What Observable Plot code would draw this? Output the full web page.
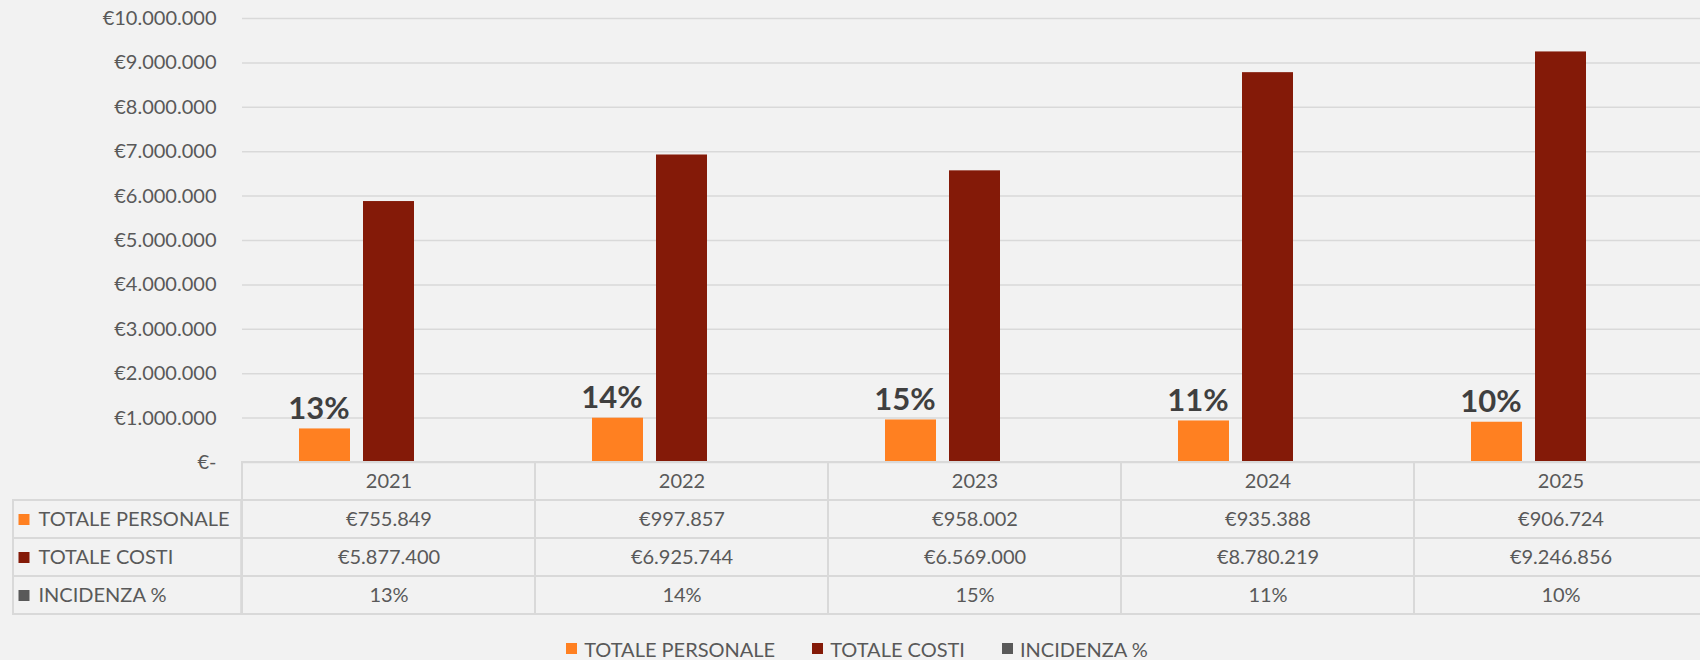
<!DOCTYPE html>
<html><head><meta charset="utf-8">
<script src="https://cdn.jsdelivr.net/npm/d3@7"></script>
<script src="https://cdn.jsdelivr.net/npm/@observablehq/plot@0.6"></script>
<style>
html, body { margin:0; padding:0; background:#f2f2f2; }
body { width:1700px; height:660px; overflow:hidden; font-family: Lato, sans-serif; position:relative; }
#chart, #table { width:1709px; }
svg { overflow: visible !important; display:block; max-width:none !important; }
#legend { position:absolute; left:0; top:632px; width:1700px; padding-left:14px; box-sizing:border-box; }
.lg-swatches { font-family: Lato, sans-serif !important; font-size: 20px !important; color: #595959 !important; margin: 0 !important; }
.lg-swatches-wrap { justify-content: center !important; }
.lg-swatch { margin-right: 37px !important; }
.lg-swatch:last-child { margin-right: 0 !important; }
.lg-swatch > svg { margin-right: 7px !important; }
</style></head>
<body>
<div id="chart"></div>
<div id="table"></div>
<div id="legend"></div>
<script>
const years = ["2021", "2022", "2023", "2024", "2025"];
const totalePersonale = [755849, 997857, 958002, 935388, 906724];
const totaleCosti = [5877400, 6925744, 6569000, 8780219, 9246856];
const incidenza = [0.13, 0.14, 0.15, 0.11, 0.10];
const seriesNames = ["TOTALE PERSONALE", "TOTALE COSTI", "INCIDENZA %"];
const seriesColors = ["#ff8021", "#841a08", "#595959"];
const yTicks = [0, 1000000, 2000000, 3000000, 4000000, 5000000, 6000000, 7000000, 8000000, 9000000, 10000000];

const it = d3.formatLocale({decimal: ",", thousands: ".", grouping: [3], currency: ["€", ""]});
const euro = it.format("$,.0f");
const pct = d3.format(".0%");
const yFmt = d => d === 0 ? "€-" : euro(d);

const W = 1709;
const FS = 20;

const seriesValues = [totalePersonale, totaleCosti, incidenza];
const bars = years.flatMap((y, i) => seriesNames.map((s, k) => ({year: y, series: s, value: seriesValues[k][i]})));
const labels = years.map((y, i) => ({year: y, series: seriesNames[0], value: totalePersonale[i], text: pct(incidenza[i])}));

const baseStyle = {background: "transparent", color: "#595959", fontFamily: "Lato, sans-serif", fontSize: FS + "px", overflow: "visible", maxWidth: "none"};

const chart = Plot.plot({
  width: W, height: 462,
  marginTop: 18, marginBottom: 0, marginLeft: 240, marginRight: 0,
  style: baseStyle,
  fx: {domain: years, padding: 0, axis: null},
  x: {domain: seriesNames, paddingInner: 0.2, paddingOuter: 0.87, axis: null},
  y: {domain: [0, 10000000]},
  color: {domain: seriesNames, range: seriesColors},
  marks: [
    Plot.gridY(yTicks, {stroke: "#d9d9d9", strokeOpacity: 1, strokeWidth: 1.5}),
    Plot.axisY(yTicks, {tickSize: 0, tickPadding: 26, tickFormat: yFmt, fontSize: FS, label: null}),
    Plot.barY(bars, {fx: "year", x: "series", y: "value", fill: "series"}),
    Plot.text(labels, {fx: "year", x: "series", y: "value", text: "text", lineAnchor: "bottom", dy: -10, dx: -6,
      fontSize: 31, fontWeight: "bold", fill: "#3f3f3f"})
  ]
});
document.getElementById("chart").appendChild(chart);

const rowDomain = ["header", ...seriesNames];
const cells = [
  ...years.map(y => ({year: y, row: "header", text: y})),
  ...years.flatMap((y, i) => [
    {year: y, row: seriesNames[0], text: euro(totalePersonale[i])},
    {year: y, row: seriesNames[1], text: euro(totaleCosti[i])},
    {year: y, row: seriesNames[2], text: pct(incidenza[i])}
  ])
];

const table = Plot.plot({
  width: W, height: 152,
  marginTop: 0, marginBottom: 0, marginLeft: 240, marginRight: 0,
  style: baseStyle,
  x: {domain: years, padding: 0, axis: null},
  y: {domain: rowDomain, padding: 0, axis: null},
  color: {domain: seriesNames, range: seriesColors},
  marks: [
    Plot.cell(cells, {x: "year", y: "row", fill: "none", stroke: "#d9d9d9", strokeWidth: 2}),
    Plot.cell(seriesNames, {x: () => years[0], y: d => d, insetLeft: -229, insetRight: 293.8, fill: "none", stroke: "#d9d9d9", strokeWidth: 2}),
    Plot.text(cells, {x: "year", y: "row", text: "text", fontSize: FS}),
    Plot.text(seriesNames, {y: d => d, frameAnchor: "left", dx: -202, textAnchor: "start", text: d => d, fontSize: FS}),
    Plot.dot(seriesNames, {y: d => d, frameAnchor: "left", dx: -216.5, symbol: "square", r: 6.2, fill: d => d})
  ]
});
document.getElementById("table").appendChild(table);

const legend = Plot.legend({
  color: {domain: seriesNames, range: seriesColors},
  legend: "swatches", swatchSize: 11, className: "lg"
});
document.getElementById("legend").appendChild(legend);
</script>
</body></html>
